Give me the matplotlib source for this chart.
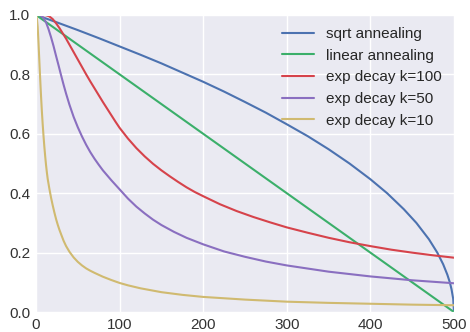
import matplotlib
matplotlib.use("Agg")
import matplotlib.pyplot as plt
import seaborn as sns

# steps and values
sqrt_steps = [0, 25, 50, 75, 100, 125, 150, 175, 200, 225, 250, 275, 300, 325, 350, 375, 400,
              420, 440, 455, 470, 480, 487, 492, 495, 497, 499, 500]
sqrt_vals = [1.0, 0.975, 0.949, 0.922, 0.894, 0.866, 0.837, 0.806, 0.775, 0.742, 0.707, 0.671,
             0.632, 0.592, 0.548, 0.5, 0.447, 0.4, 0.346, 0.3, 0.245, 0.2, 0.161, 0.126, 0.1,
             0.077, 0.045, 0.0]

linear_steps = [0, 500]
linear_vals = [1.0, 0.0]

k100_steps = [0, 4, 8, 12, 16, 20, 24, 28, 32, 36, 40, 45, 50, 55, 60, 65, 70, 75, 80, 85, 90, 95,
              100, 110, 120, 130, 140, 150, 160, 170, 180, 190, 200, 220, 240, 260, 280, 300, 325,
              350, 375, 400, 425, 450, 475, 500]
k100_vals = [1.0, 1.0, 1.0, 0.999, 0.995, 0.986, 0.972, 0.956, 0.938, 0.92, 0.9, 0.875, 0.85,
             0.825, 0.8, 0.776, 0.753, 0.73, 0.707, 0.685, 0.663, 0.641, 0.62, 0.584, 0.552, 0.524,
             0.499, 0.477, 0.457, 0.438, 0.42, 0.404, 0.39, 0.363, 0.34, 0.32, 0.302, 0.285, 0.267,
             0.25, 0.235, 0.222, 0.21, 0.2, 0.191, 0.183]

k50_steps = [0, 3, 6, 9, 12, 15, 18, 21, 24, 27, 30, 33, 36, 40, 45, 50, 55, 60, 65, 70, 75, 80,
             90, 100, 110, 120, 130, 140, 150, 165, 180, 200, 225, 250, 275, 300, 350, 400, 450, 500]
k50_vals = [1.0, 1.0, 0.998, 0.99, 0.975, 0.952, 0.925, 0.895, 0.862, 0.83, 0.797, 0.765, 0.735,
            0.698, 0.657, 0.622, 0.591, 0.563, 0.538, 0.516, 0.496, 0.477, 0.444, 0.413, 0.382,
            0.355, 0.332, 0.311, 0.293, 0.27, 0.25, 0.228, 0.204, 0.186, 0.17, 0.157, 0.136,
            0.12, 0.107, 0.097]

k10_steps = [0, 1, 2, 3, 4, 5, 6, 7, 8, 9, 10, 11, 12, 13, 14, 16, 18, 20, 22, 24, 26, 28, 30, 33,
             36, 40, 45, 50, 55, 60, 65, 70, 80, 90, 100, 110, 125, 150, 175, 200, 250, 300, 350,
             400, 450, 500]
k10_vals = [1.0, 0.99, 0.96, 0.905, 0.845, 0.785, 0.728, 0.677, 0.632, 0.592, 0.556, 0.524, 0.495,
            0.47, 0.448, 0.415, 0.385, 0.359, 0.335, 0.313, 0.294, 0.277, 0.262, 0.24, 0.222,
            0.203, 0.184, 0.169, 0.157, 0.147, 0.139, 0.132, 0.119, 0.108, 0.098, 0.09, 0.08,
            0.067, 0.058, 0.051, 0.042, 0.035, 0.031, 0.028, 0.025, 0.023]

labels = ["sqrt annealing", "linear annealing", "exp decay k=100", "exp decay k=50", "exp decay k=10"]
colors = ["#4C72B0", "#3BAF6A", "#D6434B", "#8A6FC0", "#D0BA70"]

sns.set_style("darkgrid")
plt.rcParams['font.family'] = ['Liberation Sans', 'DejaVu Sans']

fig = plt.figure(figsize=(4.7, 3.32), dpi=100)
ax = fig.add_axes([0.0766, 0.060, 0.8894, 0.895])

series = [(sqrt_steps, sqrt_vals), (linear_steps, linear_vals), (k100_steps, k100_vals),
          (k50_steps, k50_vals), (k10_steps, k10_vals)]
for (xs, ys), lab, c in zip(series, labels, colors):
    ax.plot(xs, ys, color=c, lw=1.5, label=lab)

ax.set_xlim(0, 500)
ax.set_ylim(0, 1.0)
ax.set_xticks([0, 100, 200, 300, 400, 500])
ax.set_yticks([0.0, 0.2, 0.4, 0.6, 0.8, 1.0])
ax.tick_params(labelsize=11, colors="#333333", length=2, pad=2)
ax.grid(color="white", lw=1)

ax.legend(loc="upper right", frameon=False, fontsize=11, handlelength=2.1,
          handletextpad=0.8, labelspacing=0.5, borderaxespad=0.4)

fig.savefig("out.png", dpi=100)
